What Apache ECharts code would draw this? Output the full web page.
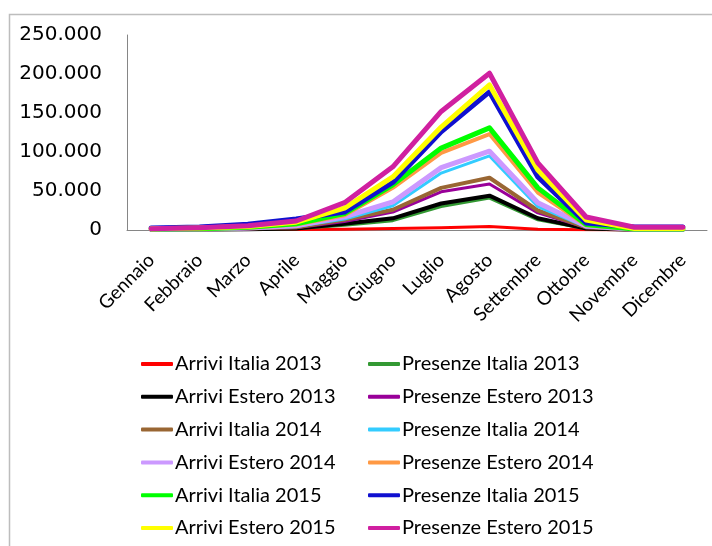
<!DOCTYPE html>
<html>
<head>
<meta charset="utf-8">
<script src="https://cdn.jsdelivr.net/npm/echarts@6/dist/echarts.min.js"></script>
<style>
  html, body { margin: 0; padding: 0; background: #fff; }
  #chart { width: 712px; height: 546px; }
</style>
</head>
<body>
<div id="chart"></div>
<script>
// mesi
var mesi = ['Gennaio', 'Febbraio', 'Marzo', 'Aprile', 'Maggio', 'Giugno',
            'Luglio', 'Agosto', 'Settembre', 'Ottobre', 'Novembre', 'Dicembre'];

// valori
var arriviItalia2013    = [200, 300, 500, 700, 1000, 2000, 3000, 4500, 1000, 300, 100, 100];
var presenzeItalia2013  = [300, 400, 800, 1500, 6000, 12000, 30000, 41000, 13000, 1500, 300, 300];
var arriviEstero2013    = [400, 500, 1000, 2000, 8000, 15000, 34000, 44000, 15000, 2000, 400, 400];
var presenzeEstero2013  = [600, 800, 1500, 3000, 11000, 23000, 49000, 59000, 22000, 3000, 600, 600];
var arriviItalia2014    = [700, 900, 1800, 3500, 13000, 26000, 54000, 67000, 25000, 3500, 700, 700];
var presenzeItalia2014  = [800, 1000, 2000, 4500, 14000, 31000, 73000, 95000, 30000, 4000, 800, 800];
var arriviEstero2014    = [1000, 1200, 2500, 5500, 17000, 36000, 80000, 101000, 35000, 5000, 1000, 1000];
var presenzeEstero2014  = [1200, 1500, 3000, 7000, 19000, 54000, 99000, 123000, 48000, 6000, 1200, 1200];
var arriviItalia2015    = [1300, 1700, 3500, 8000, 21000, 58000, 105000, 131000, 54000, 7000, 1300, 1300];
var presenzeItalia2015  = [2500, 4000, 7500, 14000, 23000, 61000, 126000, 177000, 68000, 9000, 4000, 4000];
var arriviEstero2015    = [1500, 2500, 4500, 10000, 28000, 68000, 132000, 186000, 77000, 12800, 2000, 2000];
var presenzeEstero2015  = [1500, 3000, 5500, 11500, 35000, 81000, 152000, 201000, 86000, 16700, 3500, 3500];

var serie = [
  { name: 'Arrivi Italia 2013',    data: arriviItalia2013,   color: '#ff0000', w: 3 },
  { name: 'Presenze Italia 2013',  data: presenzeItalia2013, color: '#339933', w: 3 },
  { name: 'Arrivi Estero 2013',    data: arriviEstero2013,   color: '#000000', w: 4 },
  { name: 'Presenze Estero 2013',  data: presenzeEstero2013, color: '#990099', w: 3 },
  { name: 'Arrivi Italia 2014',    data: arriviItalia2014,   color: '#996633', w: 4 },
  { name: 'Presenze Italia 2014',  data: presenzeItalia2014, color: '#33ccff', w: 3 },
  { name: 'Arrivi Estero 2014',    data: arriviEstero2014,   color: '#cc99ff', w: 5 },
  { name: 'Presenze Estero 2014',  data: presenzeEstero2014, color: '#ff9944', w: 4 },
  { name: 'Arrivi Italia 2015',    data: arriviItalia2015,   color: '#00ff00', w: 5 },
  { name: 'Presenze Italia 2015',  data: presenzeItalia2015, color: '#1010d0', w: 5 },
  { name: 'Arrivi Estero 2015',    data: arriviEstero2015,   color: '#ffff00', w: 5 },
  { name: 'Presenze Estero 2015',  data: presenzeEstero2015, color: '#d020a0', w: 5 }
];

function puntini(v) {
  return String(v).replace(/\B(?=(\d{3})+(?!\d))/g, '.');
}

var legendaBase = {
  orient: 'vertical',
  top: 354,
  height: 192,
  padding: 0,
  itemWidth: 32,
  itemHeight: 4,
  itemGap: 12.8,
  icon: 'roundRect',
  textStyle: { fontFamily: 'Lato', fontSize: 20, color: '#000', lineHeight: 20, padding: [0, 0, 0, -3] }
};

var option = {
  animation: false,
  backgroundColor: '#fff',
  graphic: [{
    type: 'rect',
    shape: { x: 9.5, y: 14.5, width: 720, height: 600 },
    style: { fill: 'none', stroke: '#bdbdbd', lineWidth: 1.5 },
    z: -1
  }],
  legend: [
    Object.assign({}, legendaBase, { left: 141, data: serie.filter(function (s, i) { return i % 2 === 0; }).map(function (s) { return s.name; }) }),
    Object.assign({}, legendaBase, { left: 368, data: serie.filter(function (s, i) { return i % 2 === 1; }).map(function (s) { return s.name; }) })
  ],
  grid: { left: 127, top: 35, right: 5, bottom: 316, containLabel: false },
  xAxis: {
    type: 'category',
    data: mesi,
    boundaryGap: true,
    axisLine: { lineStyle: { color: '#868686', width: 1 } },
    axisTick: { show: false },
    axisLabel: { interval: 0, rotate: 45, margin: 27, fontFamily: 'Lato', fontSize: 19, color: '#000' }
  },
  yAxis: {
    type: 'value',
    min: 0, max: 250000, interval: 50000,
    axisLine: { show: true, lineStyle: { color: '#868686', width: 1 } },
    axisTick: { show: false },
    splitLine: { show: false },
    axisLabel: { margin: 25, fontFamily: 'DejaVu Sans', fontSize: 20, color: '#000', formatter: puntini }
  },
  series: serie.map(function (s) {
    return {
      name: s.name,
      type: 'line',
      data: s.data,
      symbol: 'none',
      itemStyle: { color: s.color },
      lineStyle: { color: s.color, width: s.w, cap: 'round', join: 'round' }
    };
  })
};

var myChart = echarts.init(document.getElementById('chart'));
myChart.setOption(option);
</script>
</body>
</html>
